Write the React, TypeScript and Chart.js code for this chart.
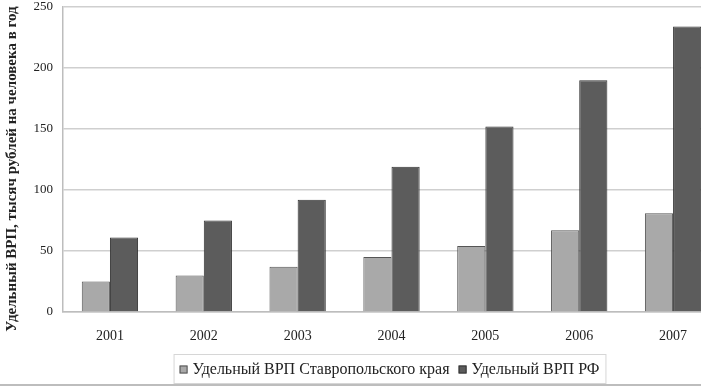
import { useEffect, useRef } from "react";
import { Chart, registerables } from "chart.js";

Chart.register(...registerables);

// Years on the category axis
const years = ["2001", "2002", "2003", "2004", "2005", "2006", "2007"];

// Per-capita gross regional product, thousand roubles per person per year
const stavropolGrp = [25, 30, 37, 45, 54, 67, 81];
const russiaGrp = [61, 75, 92, 119, 152, 190, 234];

// Value axis ticks
const yTicks = [0, 50, 100, 150, 200, 250];

const seriesNames = ["Удельный ВРП Ставропольского края", "Удельный ВРП РФ"];
const axisTitle = "Удельный ВРП, тысяч рублей на человека в год";

const SERIF = "'Liberation Serif', 'Times New Roman', serif";

// Rotated value-axis caption along the left edge
const sideTitle = {
  id: "sideTitle",
  afterDraw(chart: any) {
    const { ctx } = chart;
    ctx.save();
    ctx.translate(12, 169);
    ctx.rotate(-Math.PI / 2);
    ctx.font = `bold 15px ${SERIF}`;
    ctx.fillStyle = "#222";
    ctx.textAlign = "center";
    ctx.textBaseline = "middle";
    ctx.fillText(axisTitle, 0, 0);
    ctx.restore();
  },
};

// Legend drawn as a framed row of items under the axis labels
const boxedLegend = {
  id: "boxedLegend",
  afterDraw(chart: any) {
    const { ctx, chartArea } = chart;
    ctx.save();
    ctx.font = `16px ${SERIF}`;
    const marker = 8;
    const gapIn = 5;
    const gapOut = 9;
    const items = chart.data.datasets.map((ds: any) => ({
      label: ds.label,
      fill: ds.backgroundColor,
      stroke: ds.borderColor,
      w: ctx.measureText(ds.label).width,
    }));
    const total =
      items.reduce((s: number, it: any) => s + marker + gapIn + it.w, 0) +
      gapOut * (items.length - 1);
    const cx = (chartArea.left + chartArea.right) / 2 - 2;
    const padX = 6;
    const boxTop = chart.height - 34;
    const boxBottom = chart.height - 5;
    const boxLeft = cx - total / 2 - padX;
    const boxRight = cx + total / 2 + padX;

    ctx.strokeStyle = "#d6d6d6";
    ctx.lineWidth = 1;
    ctx.strokeRect(boxLeft + 0.5, boxTop + 0.5, boxRight - boxLeft, boxBottom - boxTop);

    const midY = (boxTop + boxBottom) / 2 + 1;
    let x = cx - total / 2;
    ctx.textBaseline = "middle";
    ctx.textAlign = "left";
    for (const it of items) {
      ctx.fillStyle = it.fill;
      ctx.fillRect(x, midY - marker / 2, marker, marker);
      ctx.strokeStyle = it.stroke;
      ctx.strokeRect(x + 0.5, midY - marker / 2 + 0.5, marker - 1, marker - 1);
      x += marker + gapIn;
      ctx.fillStyle = "#222";
      ctx.fillText(it.label, x, midY);
      x += it.w + gapOut;
    }

    // outer frame line along the bottom of the chart
    ctx.strokeStyle = "#bdbdbd";
    ctx.lineWidth = 2;
    ctx.beginPath();
    ctx.moveTo(0, chart.height - 3);
    ctx.lineTo(chart.width, chart.height - 3);
    ctx.stroke();
    ctx.restore();
  },
};

export default function App() {
  const canvasRef = useRef<HTMLCanvasElement | null>(null);

  useEffect(() => {
    if (!canvasRef.current) return;
    const chart = new Chart(canvasRef.current, {
      type: "bar",
      data: {
        labels: years,
        datasets: [
          {
            label: seriesNames[0],
            data: stavropolGrp,
            backgroundColor: "#a9a9a9",
            borderColor: "#555555",
            borderWidth: 1,
          },
          {
            label: seriesNames[1],
            data: russiaGrp,
            backgroundColor: "#5c5c5c",
            borderColor: "#333333",
            borderWidth: 1,
          },
        ],
      },
      options: {
        animation: false,
        responsive: false,
        maintainAspectRatio: false,
        layout: { padding: { left: 0, top: 0, right: 15, bottom: 0 } },
        datasets: { bar: { categoryPercentage: 0.6, barPercentage: 1 } },
        plugins: {
          legend: { display: false },
          tooltip: { enabled: false },
        },
        scales: {
          x: {
            grid: { display: false, drawTicks: false },
            border: { display: true, color: "#bdbdbd", width: 1.5 },
            ticks: {
              color: "#222",
              font: { family: SERIF, size: 14 },
              padding: 16,
            },
            afterFit(scale: any) {
              scale.height = 76;
            },
          },
          y: {
            min: 0,
            max: 250,
            afterBuildTicks(scale: any) {
              scale.ticks = yTicks.map((v) => ({ value: v }));
            },
            grid: { color: "#cfcfcf", lineWidth: 1.5, drawTicks: false },
            border: { display: true, color: "#bdbdbd", width: 1.5 },
            ticks: {
              color: "#222",
              font: { family: SERIF, size: 13 },
              padding: 10,
            },
            afterFit(scale: any) {
              scale.width = 63;
              scale.paddingTop = 7;
            },
          },
        },
      },
      plugins: [sideTitle, boxedLegend],
    });
    return () => chart.destroy();
  }, []);

  return (
    <div style={{ position: "fixed", left: 0, top: 0, width: 735, height: 388, background: "#fff" }}>
      <canvas ref={canvasRef} width={735} height={388} />
    </div>
  );
}
